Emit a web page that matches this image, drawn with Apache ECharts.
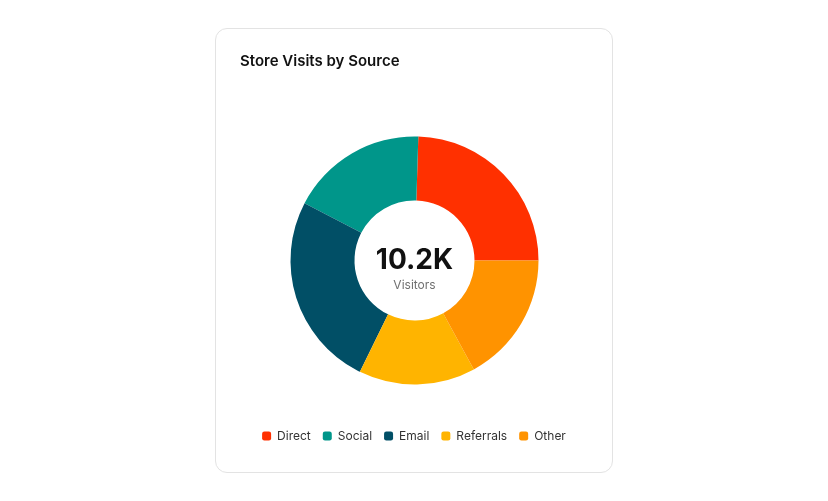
<!DOCTYPE html>
<html>
<head>
<meta charset="utf-8">
<script src="https://cdn.jsdelivr.net/npm/echarts@6/dist/echarts.min.js"></script>
<style>
  html, body { margin: 0; padding: 0; background: #fff; }
  #card { position: absolute; left: 215px; top: 28px; width: 398px; height: 445px; border: 1px solid #e3e3e3; border-radius: 12px; box-sizing: border-box; background: #fff; }
  #chart { position: absolute; left: 0; top: 0; width: 828px; height: 501px; }
</style>
</head>
<body>
<div id="card"></div>
<div id="chart"></div>
<script>
const categories = ['Direct', 'Social', 'Email', 'Referrals', 'Other'];
const visits = [2500, 1820, 2590, 1550, 1740];
const colors = ['#FF3000', '#00968A', '#014F66', '#FFB400', '#FF9300'];
const centerValue = '10.2K';
const centerLabel = 'Visitors';

const chart = echarts.init(document.getElementById('chart'), null, { renderer: 'canvas' });
chart.setOption({
  animation: false,
  backgroundColor: 'transparent',
  title: {
    text: 'Store Visits by Source',
    left: 235,
    top: 49,
    textStyle: { fontFamily: 'Inter', fontSize: 15, fontWeight: 600, color: '#111' }
  },
  legend: {
    data: categories,
    left: 'center',
    top: 425,
    icon: 'roundRect',
    itemWidth: 9,
    itemHeight: 9,
    itemGap: 12,
    textStyle: { fontFamily: 'Inter', fontSize: 12, color: '#333', padding: [0, 0, 0, 1] }
  },
  series: [{
    type: 'pie',
    center: [414.5, 260.5],
    radius: [60, 124],
    startAngle: 0,
    clockwise: false,
    label: {
      show: true,
      position: 'center',
      padding: [17, 0, 0, 0],
      formatter: () => '{v|' + centerValue + '}\n{l|' + centerLabel + '}',
      rich: {
        v: { fontFamily: 'Inter', fontSize: 28, fontWeight: 700, color: '#111', lineHeight: 32 },
        l: { fontFamily: 'Inter', fontSize: 12, color: '#707070', lineHeight: 16 }
      }
    },
    emphasis: { disabled: true },
    labelLine: { show: false },
    data: categories.map((c, i) => ({ name: c, value: visits[i], itemStyle: { color: colors[i] } })),
  }]
});
</script>
</body>
</html>
